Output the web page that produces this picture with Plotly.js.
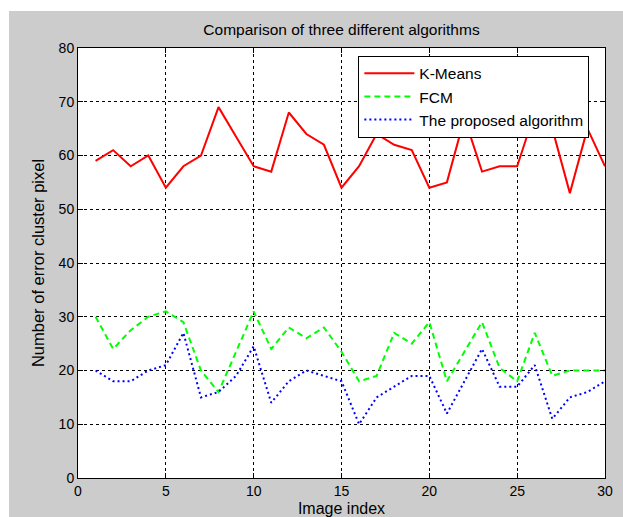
<!DOCTYPE html>
<html>
<head>
<meta charset="utf-8">
<script src="https://cdn.plot.ly/plotly-3.0.1.min.js"></script>
<style>
  html, body { margin: 0; padding: 0; background: #ffffff; }
  #chart { position: absolute; left: 9px; top: 11px; width: 614px; height: 506px; }
</style>
</head>
<body>
<div id="chart"></div>
<script>
const imageIndex = [1,2,3,4,5,6,7,8,9,10,11,12,13,14,15,16,17,18,19,20,21,22,23,24,25,26,27,28,29,30];
const kmeans   = [59,61,58,60,54,58,60,69,63.5,58,57,68,64,62,54,58,64,62,61,54,55,67,57,58,58,68,65,53,65,58];
const fcm      = [30,24,27.5,30,31,29,20,16,23.5,31,24,28,26,28,23.5,18,19,27,25,29,18,23.5,29,20.5,18,27,19,20,20,20];
const proposed = [20,18,18,20,21,27,15,16,19,24.5,14,18,20,19,18,10,15,17,19,19,12,18,24,17,17,21,11,15,16,18];
const seriesNames = ['K-Means','FCM','The proposed algorithm'];
const xTicks = [0,5,10,15,20,25,30];
const yTicks = [0,10,20,30,40,50,60,70,80];

const font = "'Liberation Sans', Arial, sans-serif";

const traces = [
  {x: imageIndex, y: kmeans, name: seriesNames[0], mode: 'lines', line: {color: '#ff0000', width: 2, dash: 'solid'}},
  {x: imageIndex, y: fcm, name: seriesNames[1], mode: 'lines', line: {color: '#00ff00', width: 2, dash: '6px,4px'}},
  {x: imageIndex, y: proposed, name: seriesNames[2], mode: 'lines', line: {color: '#0000ff', width: 2, dash: '2px,3px'}}
];

const axisCommon = {
  showline: true, linecolor: '#000000', linewidth: 1, mirror: 'ticks',
  ticks: 'inside', ticklen: 5, tickcolor: '#000000', tickwidth: 1,
  showgrid: true, gridcolor: '#000000', gridwidth: 1, griddash: '3px,3px',
  zeroline: false, tickfont: {family: font, size: 14, color: '#000000'}
};

const layout = {
  width: 614, height: 506,
  paper_bgcolor: '#cccccc', plot_bgcolor: '#ffffff',
  margin: {l: 69, r: 18, t: 37, b: 39, pad: 0},
  title: {text: 'Comparison of three different algorithms', font: {family: font, size: 15.5, color: '#000000'},
    xref: 'paper', x: 0.5, xanchor: 'center', y: 0.963, yanchor: 'middle'},
  xaxis: Object.assign({}, axisCommon, {range: [0, 30], tickvals: xTicks, ticktext: xTicks.map(String),
    title: {text: 'Image index', font: {family: font, size: 16, color: '#000000'}, standoff: 10}}),
  yaxis: Object.assign({}, axisCommon, {range: [0, 80], tickvals: yTicks, ticktext: yTicks.map(String),
    title: {text: 'Number of error cluster pixel', font: {family: font, size: 16.5, color: '#000000'}, standoff: 9}}),
  showlegend: true,
  legend: {x: 0.532, y: 0.982, xanchor: 'left', yanchor: 'top', bgcolor: '#ffffff', bordercolor: '#000000', borderwidth: 1,
    font: {family: font, size: 15.5, color: '#000000'}, itemwidth: 50, tracegroupgap: 0}
};

Plotly.newPlot('chart', traces, layout, {displayModeBar: false, staticPlot: true});
</script>
</body>
</html>
